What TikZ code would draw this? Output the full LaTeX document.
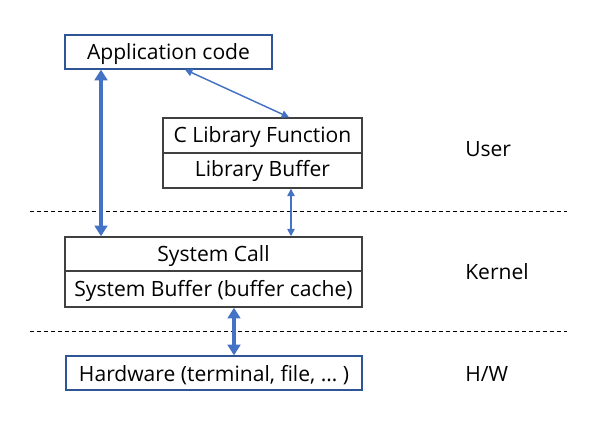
\documentclass[tikz,border=0pt]{standalone}
\usepackage{fontspec}
\setmainfont{Open Sans}
\usetikzlibrary{arrows.meta}
\definecolor{arrowblue}{HTML}{4472C4}
\definecolor{boxblue}{HTML}{2F5597}
\definecolor{boxgray}{HTML}{404040}
\begin{document}
\begin{tikzpicture}[x=0.75pt,y=-0.75pt,
  bluebox/.style={draw=boxblue,line width=0.9pt,inner sep=0pt},
  graybox/.style={draw=boxgray,line width=1.1pt,inner sep=0pt},
  lbl/.style={font=\fontsize{15.8pt}{18pt}\selectfont,text=black,anchor=base,inner sep=0pt},
  thickarrow/.style={draw=arrowblue,line width=3pt,{Triangle[width=9.5pt,length=8pt]}-{Triangle[width=9.5pt,length=8pt]}},
  thinarrow/.style={draw=arrowblue,line width=1.1pt,{Triangle[width=5.5pt,length=5.5pt]}-{Triangle[width=5.5pt,length=5.5pt]}},
  sepline/.style={draw=black,line width=0.75pt,dash pattern=on 3pt off 2.2pt}]
\useasboundingbox (0,0) rectangle (608,431);
% boxes
\node[bluebox,minimum width=207*0.75pt,minimum height=34*0.75pt] (app) at (168.5,52) {};
\node[lbl] (appT) at (168.5,59.5) {Application code};
\node[graybox,minimum width=199*0.75pt,minimum height=35*0.75pt] (clib) at (262.5,135.5) {};
\node[lbl] (clibT) at (262.5,142.5) {C Library Function};
\node[graybox,minimum width=199*0.75pt,minimum height=35*0.75pt] (lbuf) at (262.5,170.5) {};
\node[lbl] (lbufT) at (262.5,177) {Library Buffer};
\node[graybox,minimum width=297*0.75pt,minimum height=34*0.75pt] (sys) at (213.5,254) {};
\node[lbl] (sysT) at (213.5,262) {System Call};
\node[graybox,minimum width=297*0.75pt,minimum height=36*0.75pt] (sbuf) at (213.5,289) {};
\node[lbl] (sbufT) at (213.5,297) {System Buffer (buffer cache)};
\node[bluebox,minimum width=296*0.75pt,minimum height=34*0.75pt] (hw) at (214,373) {};
\node[lbl] (hwT) at (214,382) {Hardware (terminal, file, … )};
% layer labels
\node[lbl,anchor=base west] (user) at (465,157) {User};
\node[lbl,anchor=base west] (kernel) at (465,280) {Kernel};
\node[lbl,anchor=base west] (hwl) at (465,382) {H/W};
% separators
\coordinate (s1a) at (30,212); \coordinate (s1b) at (567,212);
\coordinate (s2a) at (30,332); \coordinate (s2b) at (567,332);
\draw[sepline] (s1a) -- (s1b);
\draw[sepline] (s2a) -- (s2b);
% arrows
\draw[thickarrow] (app.south -| 101,0) -- (sys.north -| 101,0);
\draw[thinarrow] (app.south -| 185,0) -- (clib.north -| 289,0);
\draw[thinarrow] (lbuf.south -| 291,0) -- (sys.north -| 291,0);
\draw[thickarrow] (sbuf.south -| 234,0) -- (hw.north -| 234,0);
\end{tikzpicture}
\end{document}
